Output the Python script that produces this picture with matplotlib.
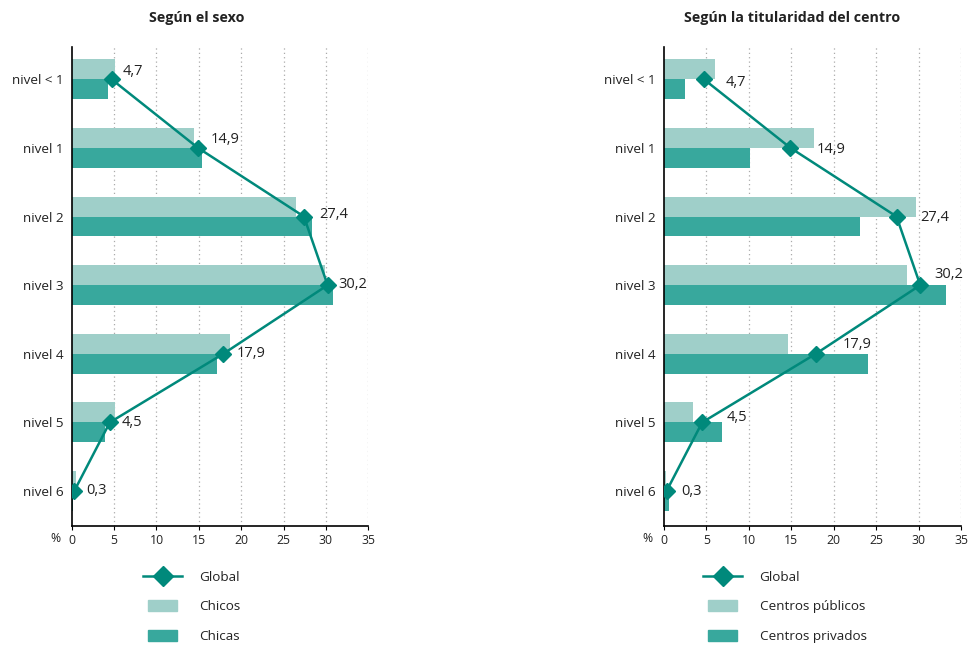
import matplotlib
matplotlib.use("Agg")
import matplotlib.pyplot as plt
import numpy as np
from matplotlib.lines import Line2D
from matplotlib.patches import Patch, Rectangle
from matplotlib.legend_handler import HandlerPatch

plt.rcParams['font.family'] = ['Open Sans', 'DejaVu Sans']

categories = ["nivel < 1", "nivel 1", "nivel 2", "nivel 3", "nivel 4", "nivel 5", "nivel 6"]
global_vals = [4.7, 14.9, 27.4, 30.2, 17.9, 4.5, 0.3]
global_labels = ["4,7", "14,9", "27,4", "30,2", "17,9", "4,5", "0,3"]

chicos = [5.1, 14.4, 26.5, 29.9, 18.7, 5.1, 0.5]
chicas = [4.25, 15.4, 28.4, 30.8, 17.1, 3.9, 0.1]

publicos = [6.0, 17.7, 29.7, 28.6, 14.6, 3.4, 0.2]
privados = [2.5, 10.1, 23.1, 33.2, 24.0, 6.8, 0.6]

xticks = [0, 5, 10, 15, 20, 25, 30, 35]

titles = ["Según el sexo", "Según la titularidad del centro"]
legend_left = ["Global", "Chicos", "Chicas"]
legend_right = ["Global", "Centros públicos", "Centros privados"]

# label offsets (pixels) per chart: (dx, dy)
offs_left = [(11, 8), (13, 8), (15, 2), (11, 1), (13, 0), (12, 0), (12, 1)]
offs_right = [(22, -3), (26, -2), (24, -1), (14, 11), (27, 9), (24, 5), (15, 0)]

LIGHT = "#9fcfc9"
DARK = "#38a89d"
LINE = "#00897b"
TEXT = "#222222"

fig = plt.figure(figsize=(9.72, 6.46), dpi=100)
W, H = 972, 646

def make_ax(x0, x1, y0, y1):
    return fig.add_axes([x0 / W, 1 - y1 / H, (x1 - x0) / W, (y1 - y0) / H])

ax1 = make_ax(71.7, 368.3, 47, 526)
ax2 = make_ax(664, 961, 47, 526)


def small_rect(legend, orig_handle, xdescent, ydescent, width, height, fontsize):
    w = width * 0.72
    h = 8.0
    return Rectangle((-xdescent + (width - w) / 2, -ydescent + (height - h) / 2), w, h)


def draw(ax, s1, s2, offs, title, title_x):
    y = np.arange(len(categories))
    h = 0.29
    ax.barh(y - h / 2, s1, height=h, color=LIGHT, zorder=2)
    ax.barh(y + h / 2, s2, height=h, color=DARK, zorder=2)
    ax.plot(global_vals, y, color=LINE, lw=1.8, marker="D", ms=8,
            mfc=LINE, mec=LINE, zorder=4)
    for v, yy, lab, (dx, dy) in zip(global_vals, y, global_labels, offs):
        ax.annotate(lab, (v, yy), xytext=(dx * 0.72, dy * 0.72),
                    textcoords="offset points", ha="left", va="center",
                    fontsize=10.5, color=TEXT, zorder=5)
    ax.set_xlim(0, 35)
    ax.set_ylim(6.51, -0.47)
    ax.set_yticks(y)
    ax.set_yticklabels(categories, fontsize=9.7, color=TEXT)
    ax.set_xticks(xticks)
    ax.set_xticklabels([str(t) for t in xticks], fontsize=8.8, color=TEXT)
    ax.tick_params(axis="y", length=0, pad=6)
    ax.tick_params(axis="x", length=3, width=0.8, pad=3, direction="out")
    for t in xticks[1:]:
        ax.axvline(t, color="#aaaaaa", lw=0.9, ls=(0, (1, 2.5)), zorder=1)
    for s in ["top", "right"]:
        ax.spines[s].set_visible(False)
    ax.spines["left"].set_linewidth(1.2)
    ax.spines["bottom"].set_linewidth(1.2)
    ax.spines["left"].set_zorder(3)
    ax.annotate("%", (0, 0), xycoords="axes fraction", xytext=(-8, -8.9),
                textcoords="offset points", ha="right", va="center",
                fontsize=8.8, color=TEXT)
    fig.text(title_x / W, 1 - 18 / H, title, ha="center", va="center",
             fontsize=10.3, fontweight="bold", color=TEXT)
    handles = [Line2D([], [], color=LINE, lw=1.8, marker="D", ms=10),
               Patch(color=LIGHT), Patch(color=DARK)]
    return handles

h1 = draw(ax1, chicos, chicas, offs_left, titles[0], 197)
h2 = draw(ax2, publicos, privados, offs_right, titles[1], 792)

hmap = {Patch: HandlerPatch(patch_func=small_rect)}
common = dict(loc="upper left", frameon=False, fontsize=9.7, handlelength=2.9,
              handleheight=0.8, labelspacing=1.22, handletextpad=1.3,
              borderpad=0, borderaxespad=0, handler_map=hmap)
leg1 = fig.legend(h1, legend_left, bbox_to_anchor=(143 / W, 1 - 571 / H), **common)
leg2 = fig.legend(h2, legend_right, bbox_to_anchor=(703 / W, 1 - 571 / H), **common)
for leg in (leg1, leg2):
    for t in leg.get_texts():
        t.set_color(TEXT)

fig.savefig("out.png", dpi=100, facecolor="white")
